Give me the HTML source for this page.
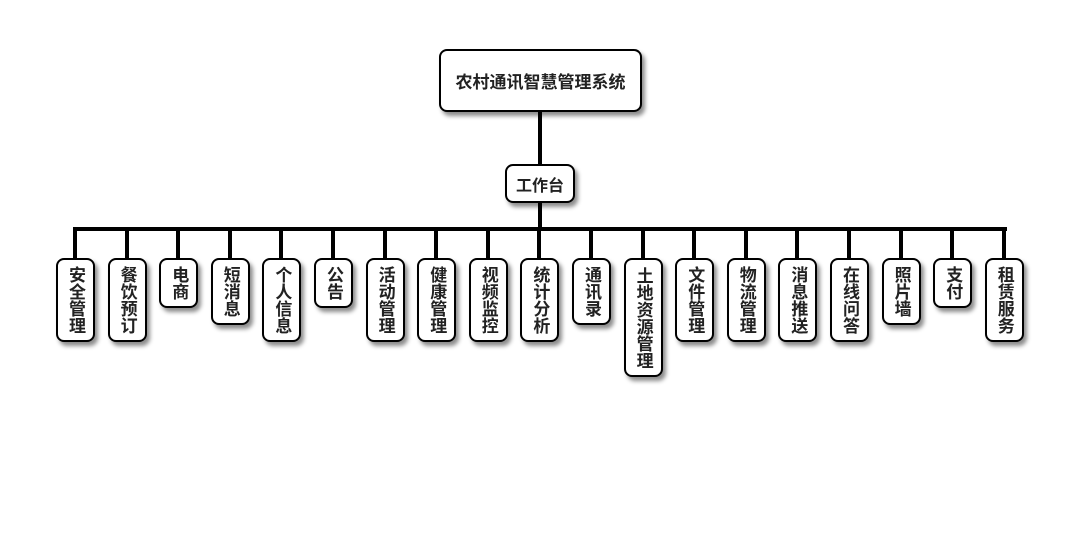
<!DOCTYPE html>
<html><head><meta charset="utf-8"><style>
body{margin:0;width:1080px;height:560px;background:#fff;position:relative;overflow:hidden;font-family:"Liberation Sans","Noto Sans CJK SC",sans-serif;}
.b{position:absolute;background:#fff;border:2px solid #000;border-radius:8px;box-sizing:border-box;box-shadow:3px 4px 4px rgba(0,0,0,0.45);font-weight:bold;color:#222;display:flex;align-items:center;justify-content:center;}
.l{position:absolute;background:#000;}
.v{writing-mode:vertical-rl;text-orientation:upright;font-size:17px;line-height:17px;letter-spacing:0px;}
</style></head><body>
<div class="l" style="left:538px;top:110px;width:4px;height:56px"></div>
<div class="l" style="left:538px;top:200px;width:4px;height:30px"></div>
<div class="l" style="left:73px;top:227px;width:934px;height:4px"></div>
<div class="b" style="left:439px;top:49px;width:203px;height:63px;font-size:17px">农村通讯智慧管理系统</div>
<div class="b" style="left:505px;top:164px;width:70px;height:39px;font-size:16px">工作台</div>
<div id="c"></div>
<script>
var items=["安全管理","餐饮预订","电商","短消息","个人信息","公告","活动管理","健康管理","视频监控","统计分析","通讯录","土地资源管理","文件管理","物流管理","消息推送","在线问答","照片墙","支付","租赁服务"];
var h="";
items.forEach(function(t,i){
 var cx=75+i*51.6;var n=t.length;var ht=Math.round(n*17.3+15);
 h+='<div class="l" style="left:'+(cx-2)+'px;top:229px;width:4px;height:31px"></div>';
 h+='<div class="b v" style="left:'+(cx-19)+'px;top:258px;width:39px;height:'+ht+'px">'+t+'</div>';
});
document.getElementById("c").innerHTML=h;
</script>
</body></html>
